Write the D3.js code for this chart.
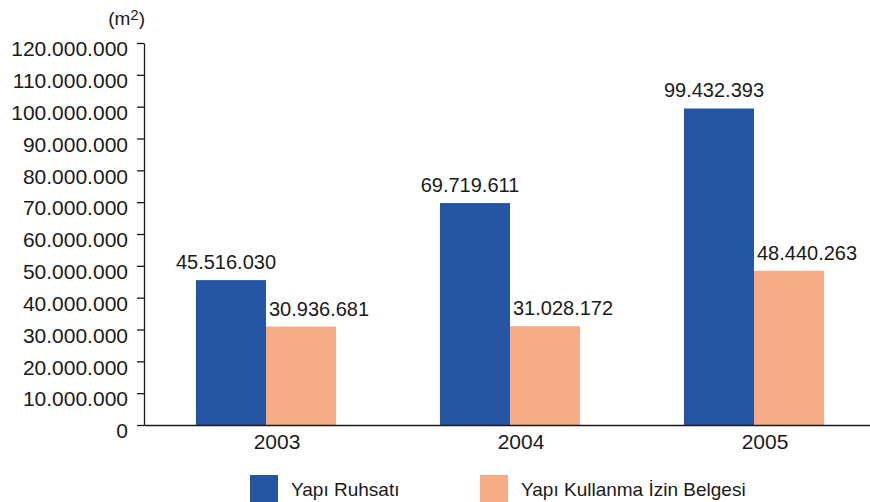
<!DOCTYPE html>
<html>
<head>
<meta charset="utf-8">
<script src="https://cdn.jsdelivr.net/npm/d3@7"></script>
<style>
  body { margin: 0; background: #fff; }
  svg text { font-family: "Liberation Sans", Arial, sans-serif; fill: #1a1a1a; }
</style>
</head>
<body>
<div id="chart"></div>
<script>
// veriler
const years = ["2003", "2004", "2005"];
const series = ["Yapı Ruhsatı", "Yapı Kullanma İzin Belgesi"];
const ruhsat = [45516030, 69719611, 99432393];
const kullanma = [30936681, 31028172, 48440263];
const yTicks = [0, 10e6, 20e6, 30e6, 40e6, 50e6, 60e6, 70e6, 80e6, 90e6, 100e6, 110e6, 120e6];
const colors = ["#2556a3", "#f6ac87"];

const width = 870, height = 502;
const svg = d3.select("#chart").append("svg")
    .attr("width", width)
    .attr("height", height);

const tr = d3.formatLocale({decimal: ",", thousands: ".", grouping: [3], currency: ["", ""]});
const fmt = tr.format(",");

// olcekler
const y = d3.scaleLinear().domain([0, 120e6]).range([425, 43]);
const x = d3.scaleBand().domain(years).range([144, 876])
    .paddingInner(0.426).paddingOuter(0.213);
const x1 = d3.scaleBand().domain([0, 1]).range([0, x.bandwidth()]);

// y ekseni
const yAxis = svg.append("g")
    .attr("transform", "translate(144,0)")
    .call(d3.axisLeft(y).tickValues(yTicks).tickFormat(fmt).tickSize(7).tickSizeOuter(0).tickPadding(9));
yAxis.select(".domain").attr("stroke", "#1a1a1a").attr("stroke-width", 1.3);
yAxis.selectAll(".tick line").attr("stroke", "#1a1a1a").attr("stroke-width", 1.3);
yAxis.selectAll(".tick text")
    .attr("y", 6)
    .style("font-size", "21px")
    .style("font-family", "Liberation Sans, Arial, sans-serif")
    .attr("fill", "#1a1a1a");

// birim
const unit = svg.append("text")
    .attr("x", 145).attr("y", 25)
    .attr("text-anchor", "end")
    .style("font-size", "19px");
unit.append("tspan").text("(m");
unit.append("tspan").attr("dy", -5).style("font-size", "15px").text("2");
unit.append("tspan").attr("dy", 5).text(")");

// cubuklar
const groups = svg.selectAll(".grp")
    .data(years)
    .enter().append("g")
    .attr("class", "grp")
    .attr("transform", d => `translate(${x(d)},0)`);

groups.selectAll("rect")
    .data((d, i) => [ruhsat[i], kullanma[i]])
    .enter().append("rect")
    .attr("x", (d, j) => x1(j))
    .attr("width", x1.bandwidth())
    .attr("y", d => y(d))
    .attr("height", d => y(0) - y(d))
    .attr("fill", (d, j) => colors[j]);

groups.selectAll(".val")
    .data((d, i) => [ruhsat[i], kullanma[i]])
    .enter().append("text")
    .attr("class", "val")
    .attr("x", (d, j) => j === 0 ? x1(0) + x1.bandwidth() / 2 - 5 : x1(1) + 3)
    .attr("y", d => y(d) - 11)
    .attr("text-anchor", (d, j) => j === 0 ? "middle" : "start")
    .style("font-size", "20px")
    .text(d => fmt(d));

// x ekseni
const xAxis = svg.append("g")
    .attr("transform", "translate(0,425)")
    .call(d3.axisBottom(x).tickSize(0).tickPadding(0).tickSizeOuter(0));
xAxis.select(".domain").attr("stroke", "#1a1a1a").attr("stroke-width", 1.3);
xAxis.selectAll(".tick text")
    .attr("x", 11)
    .attr("y", 24)
    .attr("dy", 0)
    .style("font-size", "21px")
    .style("font-family", "Liberation Sans, Arial, sans-serif")
    .attr("fill", "#1a1a1a");

// lejant
const legX = [250, 480];
const leg = svg.selectAll(".leg")
    .data(series)
    .enter().append("g")
    .attr("class", "leg")
    .attr("transform", (d, i) => `translate(${legX[i]},475)`);
leg.append("rect")
    .attr("width", 28).attr("height", 28)
    .attr("fill", (d, i) => colors[i]);
leg.append("text")
    .attr("x", 41).attr("y", 21)
    .style("font-size", "19px")
    .text(d => d);
</script>
</body>
</html>
